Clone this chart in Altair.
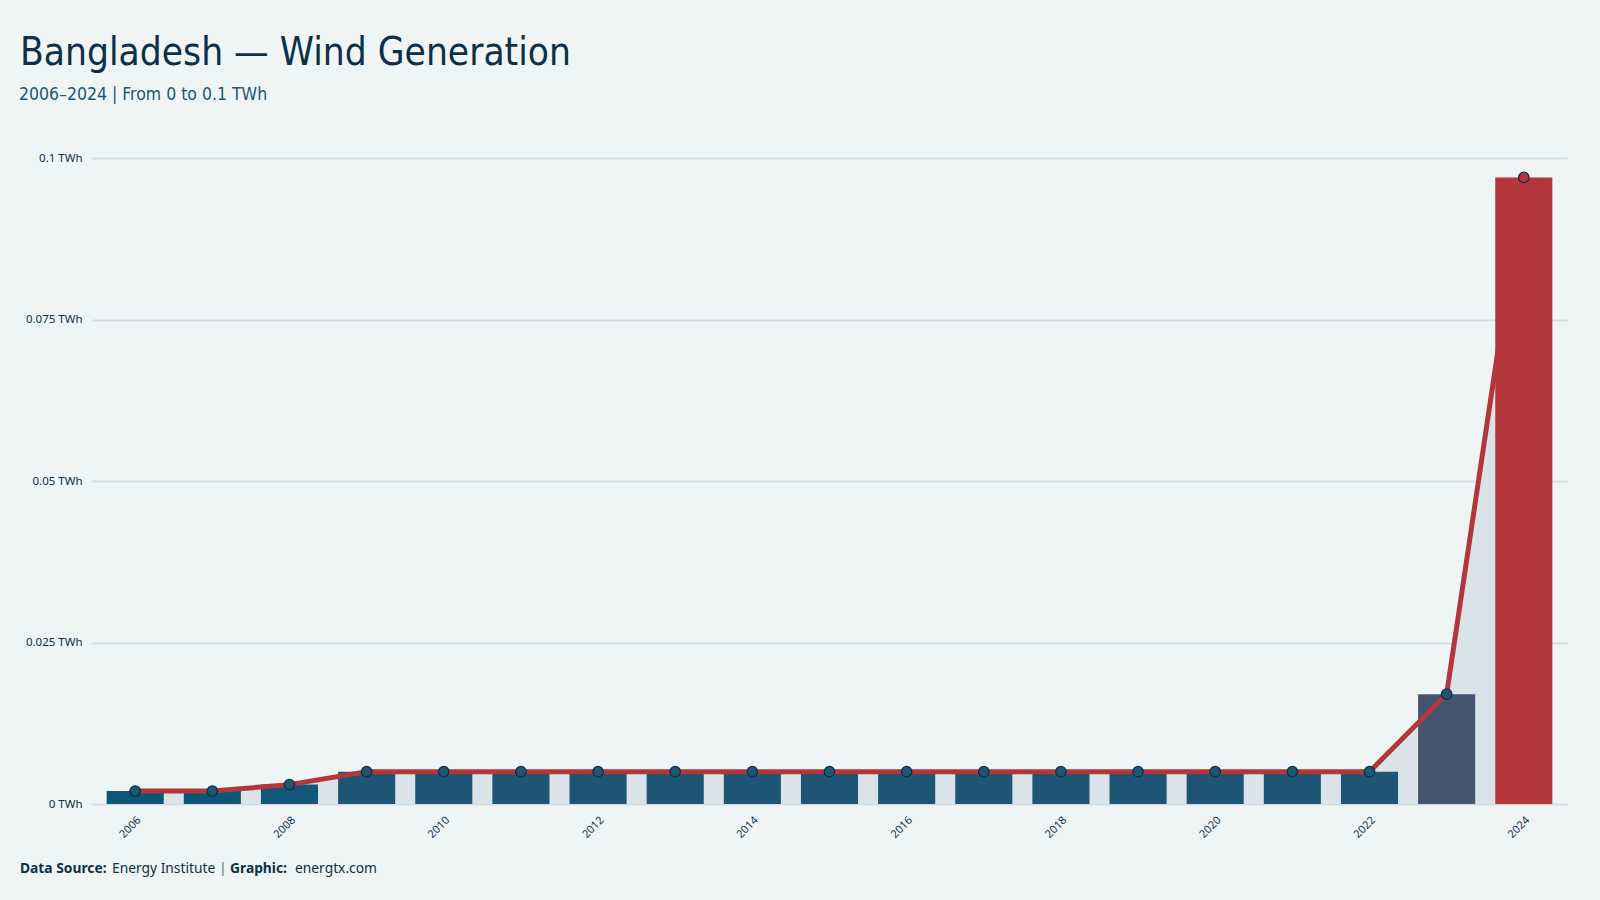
import altair as alt
import pandas as pd

years = [2006, 2007, 2008, 2009, 2010, 2011, 2012, 2013, 2014, 2015,
         2016, 2017, 2018, 2019, 2020, 2021, 2022, 2023, 2024]
values = [0.002, 0.002, 0.003, 0.005, 0.005, 0.005, 0.005, 0.005, 0.005, 0.005,
          0.005, 0.005, 0.005, 0.005, 0.005, 0.005, 0.005, 0.017, 0.097]
y_ticks = [0, 0.025, 0.05, 0.075, 0.1]
x_label_years = [2006, 2008, 2010, 2012, 2014, 2016, 2018, 2020, 2022, 2024]

title_text = "Bangladesh — Wind Generation"
subtitle_text = "2006–2024 | From 0 to 0.1 TWh"

df = pd.DataFrame({"year": years, "value": values})
df["latest"] = df["year"] == max(years)

NAVY = "#0c3049"
BG = "#eff5f5"
RED = "#b3373a"
COND = "'DejaVu Sans Condensed', 'Liberation Sans Narrow', sans-serif"

x_enc = alt.X(
    "year:O",
    title=None,
    scale=alt.Scale(paddingInner=0.26, paddingOuter=0.19),
    axis=alt.Axis(
        values=x_label_years,
        labelAngle=-45,
        labelPadding=10,
        labelFontSize=11,
        labelColor=NAVY,
        labelFont="Noto Sans",
        ticks=False,
        domain=False,
        grid=False,
    ),
)
y_enc = alt.Y(
    "value:Q",
    title=None,
    scale=alt.Scale(domain=[0, 0.1], nice=False),
    axis=alt.Axis(
        values=y_ticks,
        labelExpr="format(datum.value, '~g') + ' TWh'",
        labelPadding=10,
        labelFontSize=11.5,
        labelColor=NAVY,
        labelFont="Noto Sans",
        ticks=False,
        domain=False,
        gridColor="#d6dee1",
        gridWidth=2,
    ),
)

base = alt.Chart(df)

area = base.mark_area(color="#d9e3e8").encode(x=x_enc, y=y_enc)

bar_color = alt.Color(
    "value:Q",
    scale=alt.Scale(domain=[0.002, 0.005, 0.017, 0.097],
                    range=["#0b5679", "#1e5574", "#44546f", RED]),
    legend=None,
)

bars = base.mark_bar().encode(x=x_enc, y=y_enc, color=bar_color).transform_filter(
    "!datum.latest")

line = base.mark_line(color=RED, strokeWidth=5).encode(x=x_enc, y=y_enc)

bar_last = base.mark_bar(color=RED).encode(x=x_enc, y=y_enc).transform_filter("datum.latest")

points = base.mark_point(filled=True, size=110, stroke=NAVY, strokeWidth=1.3, opacity=1).encode(
    x=x_enc,
    y=y_enc,
    fill=alt.condition("datum.latest", alt.value(RED), alt.value("#1d5573")),
)

one = pd.DataFrame({"t": [title_text], "s": [subtitle_text]})

title = alt.Chart(one).mark_text(
    align="left", baseline="alphabetic", fontSize=38.5, color=NAVY, font=COND,
).encode(x=alt.value(-72), y=alt.value(-93), text="t:N")

subtitle = alt.Chart(one).mark_text(
    align="left", baseline="alphabetic", fontSize=17.5, color="#1d5573", font=COND,
).encode(x=alt.value(-73), y=alt.value(-58), text="s:N")

footer_parts = pd.DataFrame({
    "txt": ["Data Source:", "Energy Institute", "|", "Graphic:", "energtx.com"],
    "bold": [True, False, True, True, False],
    "xpos": [-72, 20, 127, 138, 203],
})

def footer_piece(i):
    row = footer_parts.iloc[i]
    color = "#7d95a3" if row["txt"] == "|" else NAVY
    return alt.Chart(pd.DataFrame({"t": [row["txt"]]})).mark_text(
        align="left", baseline="alphabetic", fontSize=13.8, color=color,
        font="Noto Sans", fontWeight="bold" if row["bold"] else "normal",
    ).encode(x=alt.value(int(row["xpos"])), y=alt.value(715), text="t:N")

footer = alt.layer(*[footer_piece(i) for i in range(len(footer_parts))])

chart = alt.layer(area, bars, line, bar_last, points, title, subtitle, footer).properties(
    width=1475,
    height=646,
    background=BG,
    padding={"left": 92, "top": 158, "right": 33, "bottom": 96},
    autosize=alt.AutoSizeParams(type="none"),
).configure_view(stroke=None)

chart.save("out.html", embed_options={"renderer": "svg", "actions": False})
